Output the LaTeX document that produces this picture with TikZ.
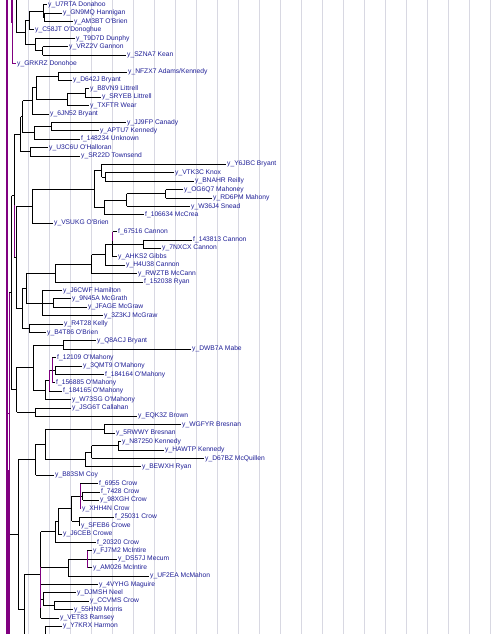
\documentclass[tikz,border=0pt]{standalone}
\usepackage{fontspec}
\newfontfamily\lblfont{Liberation Sans}
\usetikzlibrary{calc}
\definecolor{lblblue}{RGB}{30,30,150}
\definecolor{purp}{RGB}{128,0,128}
\definecolor{gridc}{RGB}{216,216,226}
\tikzset{
  br/.style={draw=black,line width=0.8pt},
  purpline/.style={draw=purp,line width=0.9pt},
  gridline/.style={draw=gridc,line width=0.7pt},
  lbl/.style={anchor=west,inner xsep=1pt,inner ysep=0.5pt,text=lblblue,
    font=\lblfont\fontsize{6.7}{8}\selectfont}
}
\newcommand\leaf[3]{\node[lbl] (L#1) at ({#2-1},{4.7+8.4*(#1-1)}) {#3};}
\newcommand\clade[4][br]{%
  \foreach \c [count=\i] in {#4} {\ifnum\i=1 \global\let\cfirst\c\fi \global\let\clast\c}%
  \coordinate (#2m) at ($(\cfirst)!.5!(\clast)$);%
  \coordinate (#2) at (#2m -| #3,0);%
  \foreach \c in {#4} {\draw[br] (\c -| #2) -- (\c);}%
  \draw[#1] (\cfirst -| #2) -- (\clast -| #2);%
}
\begin{document}
\begin{tikzpicture}[x=1pt,y=-1pt]
\useasboundingbox (0,0) rectangle (500,634);
\fill[white] (0,0) rectangle (500,634);
\clip (0,0) rectangle (500,634);
\foreach \k in {0,...,23} \draw[gridline] ({7.3+21*\k},0) -- ({7.3+21*\k},634);
% leaves
\leaf{1}{48}{y\_U7RTA Donahoo}
\leaf{2}{63}{y\_GN9MQ Hannigan}
\leaf{3}{74}{y\_AM3BT O'Brien}
\leaf{4}{35}{y\_C58JT O'Donoghue}
\leaf{5}{76}{y\_T9D7D Dunphy}
\leaf{6}{69}{y\_VRZ2V Gannon}
\leaf{7}{127}{y\_SZNA7 Kean}
\leaf{8}{17}{y\_GRKRZ Donohoe}
\leaf{9}{128}{y\_NFZX7 Adams/Kennedy}
\leaf{10}{73}{y\_D642J Bryant}
\leaf{11}{90}{y\_B8VN9 Littrell}
\leaf{12}{102}{y\_SRYEB Littrell}
\leaf{13}{90}{y\_TXFTR Wear}
\leaf{14}{50}{y\_6JN52 Bryant}
\leaf{15}{127}{y\_JJ9FP Canady}
\leaf{16}{100}{y\_APTU7 Kennedy}
\leaf{17}{81}{f\_148234 Unknown}
\leaf{18}{49}{y\_U3C6U O'Halloran}
\leaf{19}{81}{y\_SR22D Townsend}
\leaf{20}{227}{y\_Y6JBC Bryant}
\leaf{21}{175}{y\_VTK3C Knox}
\leaf{22}{195}{y\_BNAHR Reilly}
\leaf{23}{184}{y\_OG6Q7 Mahoney}
\leaf{24}{213}{y\_RD6PM Mahony}
\leaf{25}{191}{y\_W36J4 Snead}
\leaf{26}{145}{f\_106634 McCrea}
\leaf{27}{54}{y\_VSUKG O'Brien}
\leaf{28}{118}{f\_67516 Cannon}
\leaf{29}{193}{f\_143813 Cannon}
\leaf{30}{162}{y\_7NXCX Cannon}
\leaf{31}{118}{y\_AHKS2 Gibbs}
\leaf{32}{126}{y\_H4U38 Cannon}
\leaf{33}{138}{y\_RWZTB McCann}
\leaf{34}{144}{f\_152038 Ryan}
\leaf{35}{63}{y\_J6CWF Hamilton}
\leaf{36}{72}{y\_9N45A McGrath}
\leaf{37}{88}{y\_JFAGE McGraw}
\leaf{38}{104}{y\_3Z3KJ McGraw}
\leaf{39}{64}{y\_R4T28 Kelly}
\leaf{40}{47}{y\_B4T86 O'Brien}
\leaf{41}{97}{y\_Q8ACJ Bryant}
\leaf{42}{192}{y\_DWB7A Mabe}
\leaf{43}{57}{f\_12109 O'Mahony}
\leaf{44}{83}{y\_3QMT9 O'Mahony}
\leaf{45}{105}{f\_184164 O'Mahony}
\leaf{46}{56}{f\_156885 O'Mahony}
\leaf{47}{63}{f\_184165 O'Mahony}
\leaf{48}{72}{y\_W73SG O'Mahony}
\leaf{49}{72}{y\_JSG6T Callahan}
\leaf{50}{138}{y\_EQK3Z Brown}
\leaf{51}{182}{y\_WGFYR Bresnan}
\leaf{52}{116}{y\_5RWWY Bresnan}
\leaf{53}{122}{y\_N87250 Kennedy}
\leaf{54}{165}{y\_HAWTP Kennedy}
\leaf{55}{205}{y\_D67BZ McQuillen}
\leaf{56}{142}{y\_BEWXH Ryan}
\leaf{57}{55}{y\_B83SM Coy}
\leaf{58}{99}{f\_6955 Crow}
\leaf{59}{101}{f\_7428 Crow}
\leaf{60}{100}{y\_98XGH Crow}
\leaf{61}{82}{y\_XHH4N Crow}
\leaf{62}{115}{f\_25031 Crow}
\leaf{63}{81}{y\_SFEB6 Crowe}
\leaf{64}{63}{y\_J6CEB Crowe}
\leaf{65}{97}{f\_20320 Crow}
\leaf{66}{93}{y\_FJ7M2 McIntire}
\leaf{67}{118}{y\_DS57J Mecum}
\leaf{68}{93}{y\_AM026 McIntire}
\leaf{69}{150}{y\_UF2EA McMahon}
\leaf{70}{99}{y\_4VYHG Maguire}
\leaf{71}{77}{y\_DJMSH Neel}
\leaf{72}{90}{y\_CCVMS Crow}
\leaf{73}{74}{y\_55HN9 Morris}
\leaf{74}{60}{y\_VET83 Ramsey}
\leaf{75}{63}{y\_Y7KRX Harmon}
% group A
\clade{n2}{44}{L2,L3}
\clade{n1}{43}{L1,n2}
\clade{n3}{29}{n1,L4}
\clade{n4}{42.7}{L6,L7}
\clade{n5}{35}{L5,n4}
\clade{n6}{25}{n3,n5}
\draw[br] (16.7,0) -- (n6 -| 16.7,0) -- (n6);
\draw[purpline] (12.3,0) -- (L8 -| 12.3,0) -- (L8);
% group B
\clade{n9}{58.3}{L9,L10}
\clade{n10}{85}{L11,L12}
\clade{n11}{67}{n10,L13}
\clade{n12}{36}{n9,n11}
\clade{n13}{32.3}{n12,L14}
\clade{n14}{51.7}{L15,L16}
\clade{n15}{34}{n14,L17}
\clade{n16}{22.7}{n13,n15}
\clade{n17}{30.3}{L18,L19}
\clade{n18}{20.7}{n16,n17}
% group C
\clade{n19}{105}{L21,L22}
\clade{n20}{101.7}{L20,n19}
\clade{n21}{165.7}{L23,L24}
\clade{n22}{126.7}{n21,L25}
\clade{n23}{104}{n22,L26}
\clade{n24}{94.3}{n20,n23}
\clade{n25}{32.3}{n24,L27}
% group D
\clade{n27}{143.3}{L29,L30}
\clade{n28}{112.7}{L28,n27,L31}
\clade{n29}{105}{n28,L32}
\clade{n30}{91.7}{n29,L33}
\clade{n31}{55}{n30,L34}
\clade{n32}{53.3}{L36,L37}
\clade{n33}{42.7}{L35,n32,L38}
\clade{n34}{26}{n31,n33}
\clade{n35}{29.3}{L39,L40}
\clade{n36}{22}{n34,n35}
\clade{nX}{16}{n25,n36}
\clade{n26}{14.3}{n18,nX}
% group E
\clade{n38}{63.3}{L41,L42}
\clade{n39}{55}{L44,L45}
\clade[purpline]{n40}{52}{L43,n39,L46}
\clade[purpline]{n41}{49.3}{n40,L47}
\clade{n42}{45}{n41,L48}
\clade{n43}{33.3}{n38,n42}
\clade{n44}{35}{L49,L50}
\clade{n45}{16.7}{n43,n44}
\clade{n46}{11.7}{n26,n45}
% group F
\clade{n47}{104}{L51,L52}
\clade{n48}{118.3}{L53,L54}
\clade{n49}{91.7}{n48,L55}
\clade{n50}{85}{n49,L56}
\clade{n51}{45}{n47,n50}
\clade{n52}{35.7}{n51,L57}
% group G
\clade{n54}{82.7}{L59,L60}
\clade[purpline]{n55}{80}{L58,n54,L61}
\clade{n56}{79.3}{L62,L63}
\clade{n57}{71.7}{n55,n56}
\clade{n58}{58.3}{n57,L64}
\clade{n59}{55}{n58,L65}
\clade[purpline]{n60}{87.3}{L66,L67,L68}
\clade{n61}{68.3}{n60,L69}
\clade{n62}{54.3}{L72,L73}
\clade{n63}{43.3}{L71,n62}
\clade{n64}{40.7}{n59,n61,L70,n63,L74}
\coordinate (b66) at (60,663);
\clade{n66}{45}{L75,b66}
\clade{n65}{24.3}{n64,n66}
\clade{n53}{18.3}{n52,n65}
% top level
\clade[purpline]{nT}{9.3}{n46,n53}
\draw[purpline] (nT) -- (nT -| 7,0);
% purple overlays
\draw[purp,line width=1.4pt] (7,0) -- (7,634);
\draw[purp,line width=2.6pt] (8.2,470) -- (8.2,634);
\draw[purpline] (11,0) -- (11,23);
\draw[purp,line width=1.5pt] (14.5,205) -- (14.5,257);
\draw[purp,line width=1.4pt] (112.7,231.5) -- (112.7,241);
\draw[purp,line width=1.4pt] (40.7,566.7) -- (40.7,608);
\end{tikzpicture}
\end{document}
